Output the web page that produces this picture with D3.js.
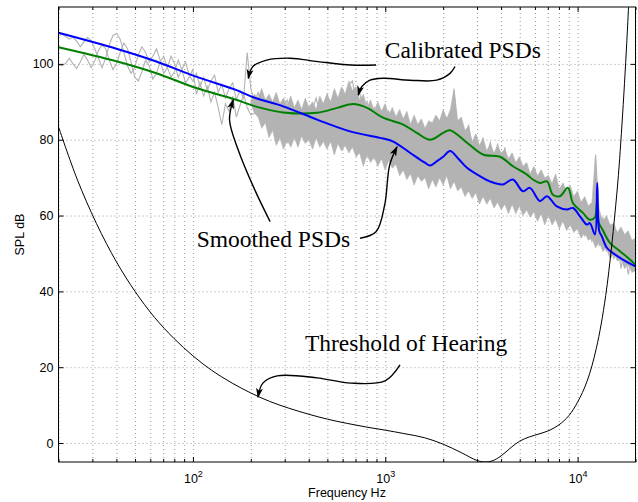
<!DOCTYPE html>
<html>
<head>
<meta charset="utf-8">
<script src="https://cdn.jsdelivr.net/npm/d3@7"></script>
<style>
  body { margin: 0; background: #fff; }
  .axis text { font-family: "Liberation Sans", Arial, sans-serif; font-size: 12.5px; fill: #000; }
  .axis path { display: none; }
  .axis line { stroke: #000; }
  .grid path { display: none; }
  .grid line { stroke: #9a9a9a; stroke-dasharray: 1,3; }
  .note { font-family: "Liberation Serif", "Times New Roman", serif; font-size: 23.5px; fill: #000; }
</style>
</head>
<body>
<div id="chart"></div>
<script>
// threshold of hearing
const thrFreq = [20, 25, 31.5, 40, 50, 63, 80, 100, 125, 160, 200, 250, 315, 400, 500, 630, 800, 1000, 1250, 1600,
  2000, 2500, 3000, 3300, 3600, 4000, 4500, 5000, 5600, 6300, 7100, 8000, 9000, 10000, 11200, 12500, 14000, 16000, 17000, 18000, 18500];
const thrDb = [83.4, 69.6, 57.9, 47.8, 40.0, 33.2, 27.5, 23.0, 19.2, 15.8, 13.2, 11.0, 9.2, 7.6, 6.3, 5.2, 4.2, 3.4, 2.5, 1.4,
  -0.3, -2.6, -4.6, -5.0, -4.7, -3.4, -1.2, 0.5, 1.6, 2.4, 3.3, 4.8, 7.2, 10.8, 16.3, 24.9, 38.9, 65.9, 83.9, 105.3, 117.5];

// smoothed PSDs
const blueFreq = [20, 40, 64, 103, 166, 211, 295, 442, 656, 974, 1100, 1350, 1600, 1710, 1850, 2000, 2170, 2400, 2660, 3200,
  3500, 4090, 4600, 5200, 5650, 6370, 6930, 7800, 8800, 9460, 10290, 11180, 11580, 12300, 12650, 12950, 13370, 14190, 15270, 17190, 20000];
const blueDb = [108.2, 104, 100.7, 96.7, 93.2, 91, 88.8, 85.3, 82.2, 80.3, 79.5, 76.5, 74, 73.2, 74.3, 75.5, 77, 75, 72.6, 70,
  69, 68.2, 69.5, 66.4, 67.3, 63.8, 65.1, 62.4, 61.6, 62, 59.8, 57.6, 58, 55, 68.6, 56, 54.5, 51.5, 50.1, 48.4, 46.6];

const greenFreq = [20, 40, 64, 103, 166, 211, 295, 442, 562, 681, 804, 974, 1240, 1460, 1710, 2000, 2170, 2660, 3220, 3950,
  4610, 5450, 5860, 6370, 6930, 7440, 8090, 8910, 9460, 10660, 11580, 12300, 12600, 12900, 13400, 14720, 16600, 18700, 20000];
const greenDb = [104.4, 100.7, 97.6, 93.7, 90.6, 88.8, 87.2, 87.1, 88.4, 89.4, 88.4, 85.8, 84, 81.8, 80, 81.8, 82.5, 79.2, 76.1, 75.5,
  73, 70.8, 69.5, 68.6, 69, 65.5, 65.1, 67.3, 63.3, 60.7, 58.9, 59.5, 63.5, 58, 56.5, 52.8, 50.6, 48.4, 47];

// calibrated PSDs, one value per log-spaced bin from 20 Hz to 20 kHz
const calBlueDb = [
  107.5, 107.8, 107.2, 106.5, 107.0, 106.0, 104.5, 105.8, 107.0, 106.2, 104.0, 101.5, 99.0, 101.5, 105.0, 107.5, 108.0, 106.5, 103.0, 99.5,
  97.5, 99.0, 102.5, 104.5, 103.0, 100.5, 102.0, 104.0, 101.0, 97.5, 99.0, 102.0, 100.0, 96.5, 98.5, 100.5, 97.0, 95.5,
  97.5, 94.0, 96.5, 93.0, 95.5, 97.0, 92.5, 94.5, 91.0, 93.5, 95.0, 90.5, 93.0, 91.0, 103.0, 93.5,
  90.0, 92.5, 88.0, 90.5, 86.5, 89.0, 84.0, 87.5, 82.0, 79.0, 84.5, 81.0, 86.0, 83.0, 80.5, 85.0, 82.0, 86.5, 83.5, 80.0,
  84.5, 82.5, 86.0, 81.5, 84.0, 80.5, 83.0, 85.5, 81.0, 78.5, 79.0, 76.0, 78.5, 75.0, 77.5, 80.0, 76.5,
  81.0, 77.0, 79.5, 75.5, 78.0, 73.5, 76.0, 72.0, 75.5, 71.0, 74.5, 70.5, 73.0, 76.0, 72.0, 75.0, 78.0, 74.0, 77.5, 73.0,
  71.0, 76.0, 70.0, 74.5, 68.5, 73.5, 67.0, 72.5, 66.5, 71.5, 65.5, 70.5, 66.0, 72.0, 66.5, 71.0, 64.0, 69.5, 63.5, 70.0,
  62.5, 67.5, 61.0, 67.0, 61.5, 66.0, 59.5, 65.0, 58.5, 64.5, 58.0, 63.5, 56.5, 61.0, 54.5, 60.0, 53.0, 76.0, 52.0, 57.0,
  50.5, 55.0, 48.5, 53.5, 46.0, 51.0, 44.5, 49.5, 45.0];
const calGreenDb = [
  99.8, 99.5, 100.2, 101.5, 100.0, 98.8, 100.5, 102.5, 101.0, 99.0, 100.8, 103.5, 105.0, 104.0, 101.0, 98.5, 100.0, 103.0, 105.5, 104.0,
  100.5, 96.5, 95.5, 98.0, 101.0, 99.5, 96.0, 97.5, 100.5, 102.0, 99.0, 96.5, 98.0, 101.0, 98.5, 95.0, 96.5, 98.5,
  92.0, 95.0, 91.5, 94.0, 90.0, 92.5, 88.5, 84.0, 89.5, 87.5, 91.5, 86.0, 89.0, 92.0, 88.5, 86.5,
  87.0, 90.0, 86.5, 89.0, 91.5, 87.0, 89.5, 85.5, 88.0, 90.5, 86.5, 84.0, 88.5, 86.0, 89.5, 85.0, 88.0, 91.0, 86.5, 89.0,
  92.0, 88.0, 91.5, 87.0, 93.0, 89.5, 94.5, 95.5, 90.0, 92.5, 87.5, 90.0, 86.0, 88.5, 84.5, 87.0, 85.0,
  87.5, 83.0, 86.0, 82.0, 85.5, 80.5, 84.0, 79.0, 82.5, 78.5, 82.0, 77.5, 80.5, 84.0, 79.5, 83.0, 86.0, 81.0, 93.0, 82.5,
  85.5, 79.0, 84.0, 77.5, 81.5, 75.0, 80.5, 74.0, 79.5, 73.0, 79.0, 72.5, 78.0, 70.5, 76.5, 70.0, 75.0, 68.5, 73.5, 66.5,
  72.5, 65.0, 72.0, 66.0, 70.5, 62.5, 69.0, 62.0, 68.5, 63.0, 67.5, 60.0, 65.0, 58.0, 63.5, 57.0, 62.5, 66.0, 55.0, 59.5,
  52.5, 57.0, 50.0, 55.5, 48.0, 53.0, 46.5, 51.5, 47.0];

// spread of the dense calibrated traces above ~200 Hz (bins 53..159), low and high edge
const bandStart = 53;
const calLowDb = [
  89.5, 87.0,
  86.0, 83.0, 84.5, 80.5, 82.5, 78.5, 80.5, 77.5, 80.0, 78.0,
  80.5, 78.0, 81.0, 79.0, 80.0, 77.5, 80.5, 78.0, 79.5, 77.5,
  79.5, 76.0, 79.0, 77.0, 78.5, 76.5, 78.0, 75.5, 76.5, 73.0,
  76.0, 74.0, 75.5, 73.0, 75.0, 72.0, 74.5, 72.5, 73.5, 70.5,
  72.0, 69.5, 71.0, 68.0, 70.5, 69.0, 70.0, 67.0, 69.5, 67.5,
  70.0, 68.0, 70.5, 67.0, 69.0, 66.5, 67.5, 65.0, 66.5, 64.5,
  66.0, 63.0, 65.0, 63.0, 64.5, 62.0, 63.5, 61.5, 63.0, 60.5,
  63.0, 60.5, 62.5, 60.0, 61.5, 59.5, 61.0, 58.5, 60.5, 57.5,
  60.0, 57.5, 59.0, 56.5, 58.5, 56.0, 57.5, 55.5, 56.5, 54.0,
  55.5, 53.5, 54.0, 51.5, 53.0, 50.5, 51.5, 48.5, 50.0, 48.0,
  48.5, 46.0, 47.5, 45.0, 45.5];
const calHighDb = [
  90.5, 92.0,
  91.0, 93.5, 90.5, 92.0, 90.0, 92.5, 89.5, 91.0, 89.0, 91.5,
  88.5, 90.5, 88.0, 91.0, 88.5, 90.0, 88.0, 91.5, 89.5, 92.0,
  90.0, 93.5, 91.0, 94.0, 92.0, 95.5, 93.0, 94.0, 90.5, 92.0,
  88.5, 90.5, 87.5, 90.0, 87.5, 89.5, 86.5, 88.5, 86.0, 88.0,
  85.5, 87.5, 84.0, 86.5, 84.0, 85.5, 83.0, 85.0, 84.5, 86.5,
  85.0, 88.0, 85.5, 88.0, 93.5, 85.0, 86.0, 82.5, 83.5, 79.5,
  81.5, 78.5, 80.5, 77.0, 79.0, 76.5, 78.5, 76.5, 77.5, 75.0,
  76.5, 74.0, 75.5, 73.0, 74.0, 71.0, 73.0, 70.5, 72.0, 70.0,
  70.5, 68.5, 71.0, 67.0, 68.5, 66.5, 68.0, 65.0, 66.5, 63.5,
  65.0, 62.5, 63.5, 76.0, 61.5, 58.5, 60.0, 57.5, 58.0, 55.5,
  57.0, 55.0, 56.0, 53.5, 54.0];

const yTicks = [0, 20, 40, 60, 80, 100];
const xMajor = [100, 1000, 10000];

// annotations: [freq, dB] points along each arrow, ending at the head
const notes = [
  { text: "Calibrated PSDs", at: [994, 101.5] },
  { text: "Smoothed PSDs", at: [104.6, 51.6] },
  { text: "Threshold of Hearing", at: [382, 24.4] }
];
const arrows = [
  [[895, 99.7], [663, 99.7], [447, 100.6], [320, 101.5], [242, 101.0], [205, 99.3], [194, 96.2]],
  [[2305, 99.3], [2171, 97.5], [1851, 95.7], [1345, 95.7], [973, 96.2], [833, 95.7], [754, 94.0], [724, 91.8]],
  [[252, 58.4], [210, 66.7], [172, 77.3], [155, 85.2], [162, 90.5]],
  [[739, 54.0], [895, 55.7], [993, 62.8], [1054, 73.3], [1151, 78.1]],
  [[1193, 20.6], [997, 16.4], [663, 15.8], [442, 17.2], [274, 17.7], [231, 15.8], [218, 12.1]]
];

const width = 638, height = 502;
const margin = { top: 7, right: 2.5, bottom: 40, left: 58.5 };
const chartWidth = width - margin.left - margin.right;
const chartHeight = height - margin.top - margin.bottom;

const root = d3.select("#chart").append("svg")
  .attr("width", width)
  .attr("height", height);
const svg = root.append("g")
  .attr("transform", `translate(${margin.left},${margin.top})`);

const xScale = d3.scaleLog().domain([20, 20000]).range([0, chartWidth]);
const yScale = d3.scaleLinear().domain([-5, 115]).range([chartHeight, 0]);

const xMinor = [];
[10, 100, 1000, 10000].forEach(dec => {
  for (let k = 2; k <= 9; k++) {
    const v = dec * k;
    if (v >= 20 && v <= 20000) xMinor.push(v);
  }
});
const xAll = xMinor.concat(xMajor).sort((a, b) => a - b);

// grid
svg.append("g").attr("class", "grid")
  .attr("transform", `translate(0,${chartHeight})`)
  .call(d3.axisBottom(xScale).tickValues(xAll).tickSize(-chartHeight).tickFormat(""));
svg.append("g").attr("class", "grid")
  .call(d3.axisLeft(yScale).tickValues(yTicks).tickSize(-chartWidth).tickFormat(""));

svg.append("defs").append("clipPath").attr("id", "plotclip")
  .append("rect").attr("width", chartWidth).attr("height", chartHeight);

const plot = svg.append("g").attr("clip-path", "url(#plotclip)");

const calFreq = d3.range(calBlueDb.length).map(i => 20 * Math.pow(1000, i / (calBlueDb.length - 1)));

const rawLine = d3.line()
  .x(d => xScale(d[0]))
  .y(d => yScale(d[1]));
const smoothLine = d3.line()
  .x(d => xScale(d[0]))
  .y(d => yScale(d[1]))
  .curve(d3.curveCatmullRom.alpha(0.5));

const band = d3.area()
  .x((d, i) => xScale(calFreq[bandStart + i]))
  .y0(d => yScale(d[0]))
  .y1(d => yScale(d[1]));

plot.append("path")
  .datum(calLowDb.map((v, i) => [v, calHighDb[i]]))
  .attr("d", band)
  .attr("fill", "#b3b3b3")
  .attr("stroke", "#b3b3b3")
  .attr("stroke-width", 0.6);

[calGreenDb, calBlueDb].forEach(vals => {
  plot.append("path")
    .datum(vals.map((v, i) => [calFreq[i], v]))
    .attr("d", rawLine)
    .attr("fill", "none")
    .attr("stroke", "#b3b3b3")
    .attr("stroke-width", 1.1);
});

plot.append("path")
  .datum(greenFreq.map((f, i) => [f, greenDb[i]]))
  .attr("d", smoothLine)
  .attr("fill", "none")
  .attr("stroke", "#008000")
  .attr("stroke-width", 2);

plot.append("path")
  .datum(blueFreq.map((f, i) => [f, blueDb[i]]))
  .attr("d", smoothLine)
  .attr("fill", "none")
  .attr("stroke", "#0000ff")
  .attr("stroke-width", 2);

plot.append("path")
  .datum(thrFreq.map((f, i) => [f, thrDb[i]]))
  .attr("d", smoothLine)
  .attr("fill", "none")
  .attr("stroke", "#000")
  .attr("stroke-width", 1);

// axes with inward ticks
const xAxis = d3.axisBottom(xScale).tickValues(xMajor).tickSizeInner(-5).tickSizeOuter(0).tickPadding(12);
const xAxisG = svg.append("g").attr("class", "axis")
  .attr("transform", `translate(0,${chartHeight})`)
  .call(xAxis);
xAxisG.selectAll(".tick text").each(function(d) {
  const t = d3.select(this).text(null);
  t.append("tspan").text("10");
  t.append("tspan").attr("dy", "-0.7em").attr("font-size", "9px").text(Math.round(Math.log10(d)));
});
svg.append("g").attr("class", "axis")
  .attr("transform", `translate(0,${chartHeight})`)
  .call(d3.axisBottom(xScale).tickValues(xMinor).tickSizeInner(-3).tickSizeOuter(0).tickFormat(""));
svg.append("g").attr("class", "axis")
  .call(d3.axisTop(xScale).tickValues(xMajor).tickSizeInner(-5).tickSizeOuter(0).tickFormat(""));
svg.append("g").attr("class", "axis")
  .call(d3.axisTop(xScale).tickValues(xMinor).tickSizeInner(-3).tickSizeOuter(0).tickFormat(""));

svg.append("g").attr("class", "axis")
  .call(d3.axisLeft(yScale).tickValues(yTicks).tickSizeInner(-5).tickSizeOuter(0).tickPadding(5));
svg.append("g").attr("class", "axis")
  .attr("transform", `translate(${chartWidth},0)`)
  .call(d3.axisRight(yScale).tickValues(yTicks).tickSizeInner(-5).tickSizeOuter(0).tickFormat(""));

svg.append("rect")
  .attr("width", chartWidth)
  .attr("height", chartHeight)
  .attr("fill", "none")
  .attr("stroke", "#000")
  .attr("stroke-width", 1);

svg.append("text")
  .attr("x", chartWidth / 2)
  .attr("y", chartHeight + 35)
  .attr("text-anchor", "middle")
  .style("font-family", "'Liberation Sans', Arial, sans-serif")
  .style("font-size", "12.5px")
  .text("Frequency Hz");

svg.append("text")
  .attr("transform", `translate(${20 - margin.left},${chartHeight / 2}) rotate(-90)`)
  .attr("text-anchor", "middle")
  .attr("dy", "0.35em")
  .style("font-family", "'Liberation Sans', Arial, sans-serif")
  .style("font-size", "12.5px")
  .text("SPL dB");

// annotations
root.append("defs").append("marker")
  .attr("id", "head")
  .attr("viewBox", "0 -5 10 10")
  .attr("refX", 9)
  .attr("refY", 0)
  .attr("markerUnits", "userSpaceOnUse")
  .attr("markerWidth", 10)
  .attr("markerHeight", 10)
  .attr("orient", "auto")
  .append("path")
  .attr("d", "M0,-3.5L10,0L0,3.5L2.5,0Z")
  .attr("fill", "#000");

svg.append("g").selectAll("path")
  .data(arrows)
  .enter()
  .append("path")
  .attr("d", smoothLine)
  .attr("fill", "none")
  .attr("stroke", "#000")
  .attr("stroke-width", 1.4)
  .attr("marker-end", "url(#head)");

svg.append("g").selectAll("text")
  .data(notes)
  .enter()
  .append("text")
  .attr("class", "note")
  .attr("x", d => xScale(d.at[0]))
  .attr("y", d => yScale(d.at[1]))
  .text(d => d.text);
</script>
</body>
</html>
